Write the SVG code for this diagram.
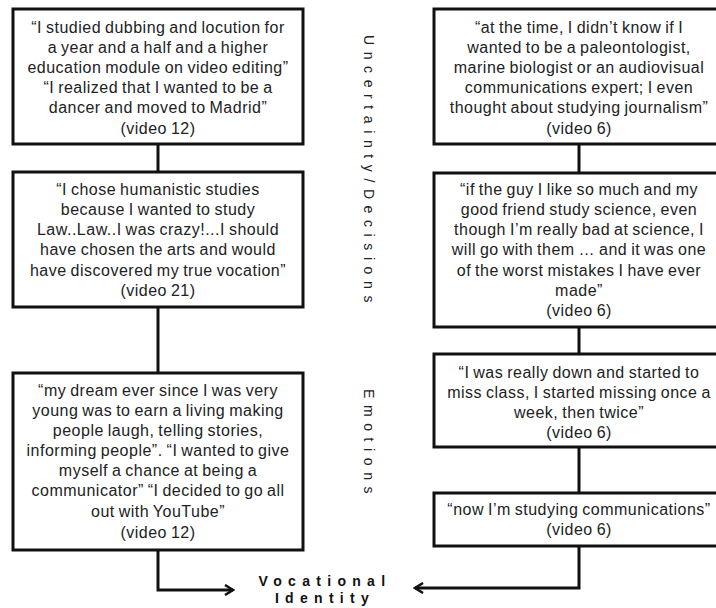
<svg xmlns="http://www.w3.org/2000/svg" width="716" height="608" viewBox="0 0 716 608">
<defs>
<style>
.box{fill:#fff;stroke:#111;stroke-width:3}
.t{font-family:"Liberation Sans",Arial,sans-serif;font-size:16px;fill:#222;text-anchor:middle;letter-spacing:0.5px;word-spacing:-1px}
.side{font-family:"Liberation Sans",Arial,sans-serif;font-size:14px;fill:#222;letter-spacing:6.6px}
.vi{font-family:"Liberation Sans",Arial,sans-serif;font-size:14px;font-weight:bold;fill:#111;text-anchor:middle;letter-spacing:6.3px}
.c{fill:none;stroke:#111;stroke-width:3}
</style>
<marker id="ah" viewBox="0 0 12 12" refX="10" refY="6" markerWidth="12" markerHeight="12" markerUnits="userSpaceOnUse" orient="auto">
<path d="M2,1 L10,6 L2,11" fill="none" stroke="#111" stroke-width="2.5"/>
</marker>
</defs>
<rect width="716" height="608" fill="#fff"/>
<g id="connectors">
<line class="c" x1="158" y1="144" x2="158" y2="172"/>
<line class="c" x1="158" y1="307" x2="158" y2="373"/>
<polyline class="c" points="158,550 158,590 233,590" marker-end="url(#ah)"/>
<line class="c" x1="579" y1="144" x2="579" y2="173"/>
<line class="c" x1="579" y1="327" x2="579" y2="354"/>
<line class="c" x1="579" y1="447" x2="579" y2="493"/>
<polyline class="c" points="579,546 579,588 415,588" marker-end="url(#ah)"/>
</g>
<g id="L1">
<rect class="box" x="13" y="9" width="290" height="135"/>
<text class="t" x="158" y="33">“I studied dubbing and locution for</text>
<text class="t" x="158" y="53">a year and a half and a higher</text>
<text class="t" x="158" y="73">education module on video editing”</text>
<text class="t" x="158" y="93">“I realized that I wanted to be a</text>
<text class="t" x="158" y="113">dancer and moved to Madrid”</text>
<text class="t" x="158" y="134">(video 12)</text>
</g>
<g id="L2">
<rect class="box" x="13" y="172" width="290" height="135"/>
<text class="t" x="158" y="195">“I chose humanistic studies</text>
<text class="t" x="158" y="215">because I wanted to study</text>
<text class="t" x="158" y="235">Law..Law..I was crazy!...I should</text>
<text class="t" x="158" y="255">have chosen the arts and would</text>
<text class="t" x="158" y="276">have discovered my true vocation”</text>
<text class="t" x="158" y="296">(video 21)</text>
</g>
<g id="L3">
<rect class="box" x="13" y="373" width="290" height="177"/>
<text class="t" x="158" y="396">“my dream ever since I was very</text>
<text class="t" x="158" y="416">young was to earn a living making</text>
<text class="t" x="158" y="436">people laugh, telling stories,</text>
<text class="t" x="158" y="456">informing people”. “I wanted to give</text>
<text class="t" x="158" y="476">myself a chance at being a</text>
<text class="t" x="158" y="496">communicator” “I decided to go all</text>
<text class="t" x="158" y="517">out with YouTube”</text>
<text class="t" x="158" y="538">(video 12)</text>
</g>
<g id="R1">
<rect class="box" x="434" y="9" width="290" height="135"/>
<text class="t" x="579" y="33">“at the time, I didn’t know if I</text>
<text class="t" x="579" y="53">wanted to be a paleontologist,</text>
<text class="t" x="579" y="73">marine biologist or an audiovisual</text>
<text class="t" x="579" y="93">communications expert; I even</text>
<text class="t" x="579" y="113">thought about studying journalism”</text>
<text class="t" x="579" y="134">(video 6)</text>
</g>
<g id="R2">
<rect class="box" x="434" y="173" width="290" height="154"/>
<text class="t" x="579" y="195">“if the guy I like so much and my</text>
<text class="t" x="579" y="215">good friend study science, even</text>
<text class="t" x="579" y="235">though I’m really bad at science, I</text>
<text class="t" x="579" y="255">will go with them … and it was one</text>
<text class="t" x="579" y="276">of the worst mistakes I have ever</text>
<text class="t" x="579" y="296">made”</text>
<text class="t" x="579" y="316">(video 6)</text>
</g>
<g id="R3">
<rect class="box" x="434" y="354" width="290" height="93"/>
<text class="t" x="579" y="378">“I was really down and started to</text>
<text class="t" x="579" y="398">miss class, I started missing once a</text>
<text class="t" x="579" y="418">week, then twice”</text>
<text class="t" x="579" y="438">(video 6)</text>
</g>
<g id="R4">
<rect class="box" x="434" y="493" width="290" height="53"/>
<text class="t" x="579" y="515">“now I’m studying communications”</text>
<text class="t" x="579" y="535">(video 6)</text>
</g>
<g id="labels">
<text class="side" x="364" y="35" transform="rotate(90 364 35)">Uncertainty/Decisions</text>
<text class="side" x="364" y="389" transform="rotate(90 364 389)">Emotions</text>
<text class="vi" x="325" y="586">Vocational</text>
<text class="vi" x="325" y="603">Identity</text>
</g>
</svg>
